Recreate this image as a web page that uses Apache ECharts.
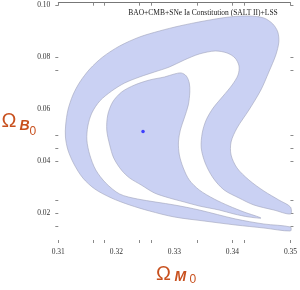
<!DOCTYPE html>
<html>
<head>
<meta charset="utf-8">
<script src="https://cdn.jsdelivr.net/npm/echarts@6/dist/echarts.min.js"></script>
<style>html,body{margin:0;padding:0;background:#fff}#c{width:300px;height:290px}</style>
</head>
<body>
<div id="c"></div>
<script>
// ---- data ----
const xLabelValues = [0.31, 0.32, 0.33, 0.34, 0.35];
const xTickValues = [0.31, 0.316, 0.318, 0.324, 0.326, 0.334, 0.34, 0.342, 0.35];
const yLabelValues = [0.02, 0.04, 0.06, 0.08, 0.10];
const yTickValues = [0.015, 0.02, 0.025, 0.04, 0.045, 0.05, 0.075, 0.08, 0.10];
const titleText = 'BAO+CMB+SNe Ia Constitution (SALT II)+LSS';
const bestFit = [[0.3246, 0.0513]];
// 2-sigma band boundary (outer edge, then inner edge back)
const contour2 = [
  [0.35, 0.01308], [0.34542, 0.01423], [0.34057, 0.01538], [0.33514, 0.01692], [0.33, 0.01846],
  [0.32572, 0.02077], [0.32229, 0.02308], [0.31915, 0.02577], [0.31629, 0.02923], [0.31423, 0.03346],
  [0.31269, 0.03885], [0.31166, 0.04423], [0.31123, 0.04923], [0.31127, 0.05385], [0.31166, 0.05962],
  [0.31252, 0.06538], [0.31372, 0.07038], [0.31543, 0.07538], [0.31766, 0.08], [0.32057, 0.08423],
  [0.324, 0.08769], [0.32743, 0.09], [0.33086, 0.09192], [0.33514, 0.09385], [0.33943, 0.09538],
  [0.34285, 0.09577], [0.34542, 0.095], [0.34697, 0.09269], [0.34782, 0.08962], [0.348, 0.08577],
  [0.34748, 0.08077], [0.34628, 0.07423], [0.34491, 0.06731], [0.34285, 0.05962], [0.3408, 0.05269],
  [0.33977, 0.04731], [0.33977, 0.04231], [0.3408, 0.03731], [0.34285, 0.03269], [0.34542, 0.02846],
  [0.348, 0.025], [0.35, 0.02231], [0.35, 0.01962],
  [0.34714, 0.02115], [0.34371, 0.02308], [0.34114, 0.02577], [0.33857, 0.02885], [0.33668, 0.03346],
  [0.33531, 0.03923], [0.33463, 0.045], [0.3348, 0.05077], [0.33548, 0.05577], [0.33668, 0.06038],
  [0.33840, 0.06500], [0.33995, 0.06923], [0.34097, 0.07308], [0.34114, 0.07654], [0.34045, 0.07962],
  [0.33908, 0.08154], [0.33703, 0.08231], [0.33429, 0.08115], [0.33171, 0.07885], [0.32914, 0.07615],
  [0.32657, 0.07423], [0.324, 0.07231], [0.32143, 0.07], [0.3192, 0.06692], [0.31715, 0.06308],
  [0.31578, 0.05846], [0.31509, 0.05346], [0.31492, 0.04808], [0.31543, 0.04231], [0.31646, 0.03654],
  [0.31818, 0.03154], [0.32057, 0.02731], [0.32366, 0.02538], [0.33, 0.02308], [0.33429, 0.02115],
  [0.34057, 0.01769], [0.34542, 0.01577], [0.35, 0.01462]
];
// 1-sigma region boundary
const contour1 = [
  [0.31835, 0.05192], [0.31852, 0.05769], [0.31937, 0.06269], [0.32092, 0.06654], [0.32315, 0.06923],
  [0.32572, 0.07115], [0.32829, 0.07231], [0.33, 0.07346], [0.33120, 0.07385], [0.33206, 0.07269],
  [0.33257, 0.07000], [0.33266, 0.06654], [0.3324, 0.06154], [0.33171, 0.05654], [0.33103, 0.05192],
  [0.3307, 0.04731], [0.33086, 0.04231], [0.33154, 0.03731], [0.33257, 0.03269], [0.33429, 0.02885],
  [0.33686, 0.02538], [0.33943, 0.02269], [0.342, 0.02038], [0.34491, 0.01808], [0.34285, 0.01846],
  [0.34028, 0.01962], [0.33771, 0.02115], [0.33429, 0.02269], [0.33171, 0.02423], [0.32914, 0.02577],
  [0.32657, 0.02769], [0.32429, 0.03077], [0.32229, 0.03346], [0.32087, 0.03654], [0.31955, 0.04115],
  [0.31886, 0.04615]
];

// ---- chart ----
const FILL = '#cad1f3';
const EDGE = '#9fa3bb';
const ORANGE = '#c8501e';
const TICK = '#8a8a8a';

function polySeries(points) {
  return {
    type: 'custom',
    coordinateSystem: 'cartesian2d',
    data: [[points[0][0], points[0][1]]],
    silent: true,
    renderItem: function (params, api) {
      return {
        type: 'polygon',
        shape: { points: points.map(function (p) { return api.coord(p); }), smooth: 0.3 },
        style: { fill: FILL, stroke: EDGE, lineWidth: 0.6 }
      };
    }
  };
}

const chart = echarts.init(document.getElementById('c'), null, { renderer: 'canvas', width: 300, height: 290 });
const xMin = 0.31, xMax = 0.35, yMin = 0.00846, yMax = 0.10088;
const axisCommon = {
  type: 'value', splitLine: { show: false }, minorTick: { show: false }
};
chart.setOption({
  animation: false,
  backgroundColor: '#fff',
  grid: { left: 58.3, right: 8.3, top: 2.7, bottom: 47, containLabel: false },
  xAxis: [
    Object.assign({}, axisCommon, {
      position: 'bottom', min: xMin, max: xMax,
      axisLine: { show: false },
      axisTick: { show: true, inside: true, length: 3, customValues: xTickValues, lineStyle: { color: TICK, width: 1 } },
      axisLabel: { show: true, customValues: xLabelValues, formatter: function (v) { return v.toFixed(2); },
        fontFamily: 'Liberation Serif', fontSize: 7.5, color: '#333', margin: 5 }
    }),
    Object.assign({}, axisCommon, {
      position: 'top', min: xMin, max: xMax,
      axisLine: { show: true, lineStyle: { color: '#777', width: 1 } },
      axisTick: { show: true, inside: true, length: 3, customValues: xTickValues, lineStyle: { color: TICK, width: 1 } },
      axisLabel: { show: false }
    })
  ],
  yAxis: [
    Object.assign({}, axisCommon, {
      position: 'left', min: yMin, max: yMax,
      axisLine: { show: false },
      axisTick: { show: true, inside: false, length: 3, customValues: yTickValues, lineStyle: { color: TICK, width: 1 } },
      axisLabel: { show: true, customValues: yLabelValues, formatter: function (v) { return v.toFixed(2); },
        fontFamily: 'Liberation Serif', fontSize: 7.5, color: '#333', margin: 8 }
    }),
    Object.assign({}, axisCommon, {
      position: 'right', min: yMin, max: yMax,
      axisLine: { show: false },
      axisTick: { show: true, inside: false, length: 3, customValues: yTickValues, lineStyle: { color: TICK, width: 1 } },
      axisLabel: { show: false }
    })
  ],
  graphic: [
    { type: 'text', x: 203, y: 13, style: { text: titleText, fontFamily: 'Liberation Serif', fontSize: 7.5, fill: '#222', align: 'center', verticalAlign: 'middle' } },
    { type: 'text', x: 156, y: 274.5, style: { text: 'Ω', fontFamily: 'Liberation Sans', fontSize: 20, fill: ORANGE, align: 'left', verticalAlign: 'middle' } },
    { type: 'text', x: 174.5, y: 277, style: { text: 'M', fontFamily: 'Liberation Sans', fontSize: 14, fontWeight: 'bold', fontStyle: 'italic', fill: ORANGE, align: 'left', verticalAlign: 'middle' } },
    { type: 'text', x: 189.5, y: 280, style: { text: '0', fontFamily: 'Liberation Sans', fontSize: 12, fill: ORANGE, align: 'left', verticalAlign: 'middle' } },
    { type: 'text', x: 1.5, y: 121.5, style: { text: 'Ω', fontFamily: 'Liberation Sans', fontSize: 20, fill: ORANGE, align: 'left', verticalAlign: 'middle' } },
    { type: 'text', x: 19.5, y: 126.5, style: { text: 'B', fontFamily: 'Liberation Sans', fontSize: 14, fontWeight: 'bold', fontStyle: 'italic', fill: ORANGE, align: 'left', verticalAlign: 'middle' } },
    { type: 'text', x: 29.5, y: 132, style: { text: '0', fontFamily: 'Liberation Sans', fontSize: 12, fill: ORANGE, align: 'left', verticalAlign: 'middle' } }
  ],
  series: [
    polySeries(contour2),
    polySeries(contour1),
    { type: 'scatter', data: bestFit, symbol: 'circle', symbolSize: 3.5, itemStyle: { color: '#1a1aff' }, silent: true, z: 5 }
  ]
});
</script>
</body>
</html>
